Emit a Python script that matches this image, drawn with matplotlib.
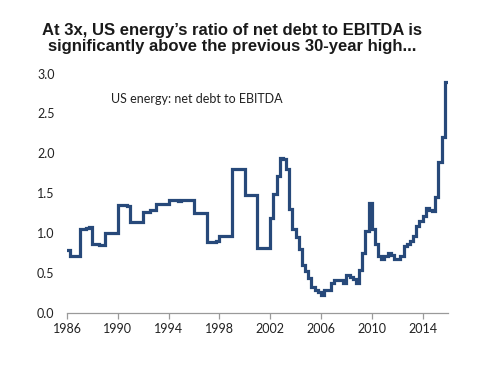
import matplotlib
matplotlib.use("Agg")
import matplotlib.pyplot as plt
import numpy as np

# Quarterly values, 1986Q1 .. 2015Q4
years = list(range(1986, 2016))
quarterly = [
    [0.79, 0.72, 0.72, 0.72],  # 1986
    [1.05, 1.05, 1.07, 1.08],  # 1987
    [0.87, 0.87, 0.85, 0.85],  # 1988
    [1.00, 1.00, 1.00, 1.00],  # 1989
    [1.35, 1.35, 1.35, 1.34],  # 1990
    [1.14, 1.14, 1.14, 1.14],  # 1991
    [1.27, 1.27, 1.29, 1.29],  # 1992
    [1.37, 1.37, 1.37, 1.37],  # 1993
    [1.42, 1.42, 1.42, 1.40],  # 1994
    [1.41, 1.42, 1.42, 1.42],  # 1995
    [1.25, 1.25, 1.25, 1.25],  # 1996
    [0.89, 0.89, 0.89, 0.90],  # 1997
    [0.97, 0.97, 0.97, 0.97],  # 1998
    [1.80, 1.80, 1.80, 1.80],  # 1999
    [1.48, 1.48, 1.48, 1.48],  # 2000
    [0.81, 0.81, 0.81, 0.81],  # 2001
    [1.19, 1.49, 1.72, 1.94],  # 2002
    [1.93, 1.80, 1.30, 1.05],  # 2003
    [0.95, 0.80, 0.60, 0.52],  # 2004
    [0.44, 0.32, 0.29, 0.26],  # 2005
    [0.23, 0.29, 0.29, 0.37],  # 2006
    [0.41, 0.41, 0.41, 0.38],  # 2007
    [0.47, 0.45, 0.42, 0.38],  # 2008
    [0.54, 0.75, 1.03, 1.38],  # 2009
    [1.05, 0.86, 0.72, 0.68],  # 2010
    [0.72, 0.75, 0.73, 0.68],  # 2011
    [0.68, 0.72, 0.84, 0.86],  # 2012
    [0.90, 0.97, 1.09, 1.15],  # 2013
    [1.21, 1.31, 1.29, 1.28],  # 2014
    [1.45, 1.89, 2.20, 2.89],  # 2015
]
x_ticks = [1986, 1990, 1994, 1998, 2002, 2006, 2010, 2014]
y_ticks = [0.0, 0.5, 1.0, 1.5, 2.0, 2.5, 3.0]
title = "At 3x, US energy\u2019s ratio of net debt to EBITDA is\nsignificantly above the previous 30-year high..."
series_label = "US energy: net debt to EBITDA"

t = []
v = []
for y, qs in zip(years, quarterly):
    for i, q in enumerate(qs):
        t.append(y + i * 0.25)
        v.append(q)
t.append(years[-1] + 1.0)
v.append(quarterly[-1][-1])

fig = plt.figure(figsize=(5.0, 3.65), dpi=100)
ax = fig.add_axes([0.134, 0.1425, 0.762, 0.6561])
ax.plot(t, v, drawstyle="steps-post", color="#27497a", lw=2.3, solid_joinstyle="miter")
ax.set_xlim(1986, 2016)
ax.set_ylim(0, 3.0)
ax.set_xticks(x_ticks)
ax.set_yticks(y_ticks)
ax.set_yticklabels([f"{y:.1f}" for y in y_ticks])
for s in ["top", "right", "left"]:
    ax.spines[s].set_visible(False)
ax.spines["bottom"].set_color("#9a9a9a")
ax.spines["bottom"].set_linewidth(0.9)
ax.tick_params(axis="x", length=4, color="#9a9a9a", width=0.9, pad=3, labelsize=9, labelcolor="#222222")
ax.tick_params(axis="y", length=0, pad=9, labelsize=9, labelcolor="#222222")
for lab in ax.get_xticklabels() + ax.get_yticklabels():
    lab.set_fontfamily("Lato")
ax.text(0.115, 0.895, series_label, transform=ax.transAxes, fontsize=9, family="Lato",
        color="#222222", va="center", ha="left")
fig.text(0.464, 0.938, title, ha="center", va="top", fontsize=12, fontweight="bold",
         family="Liberation Sans", color="#1a1a1a", linespacing=1.1)
fig.savefig("out.png", dpi=100)
